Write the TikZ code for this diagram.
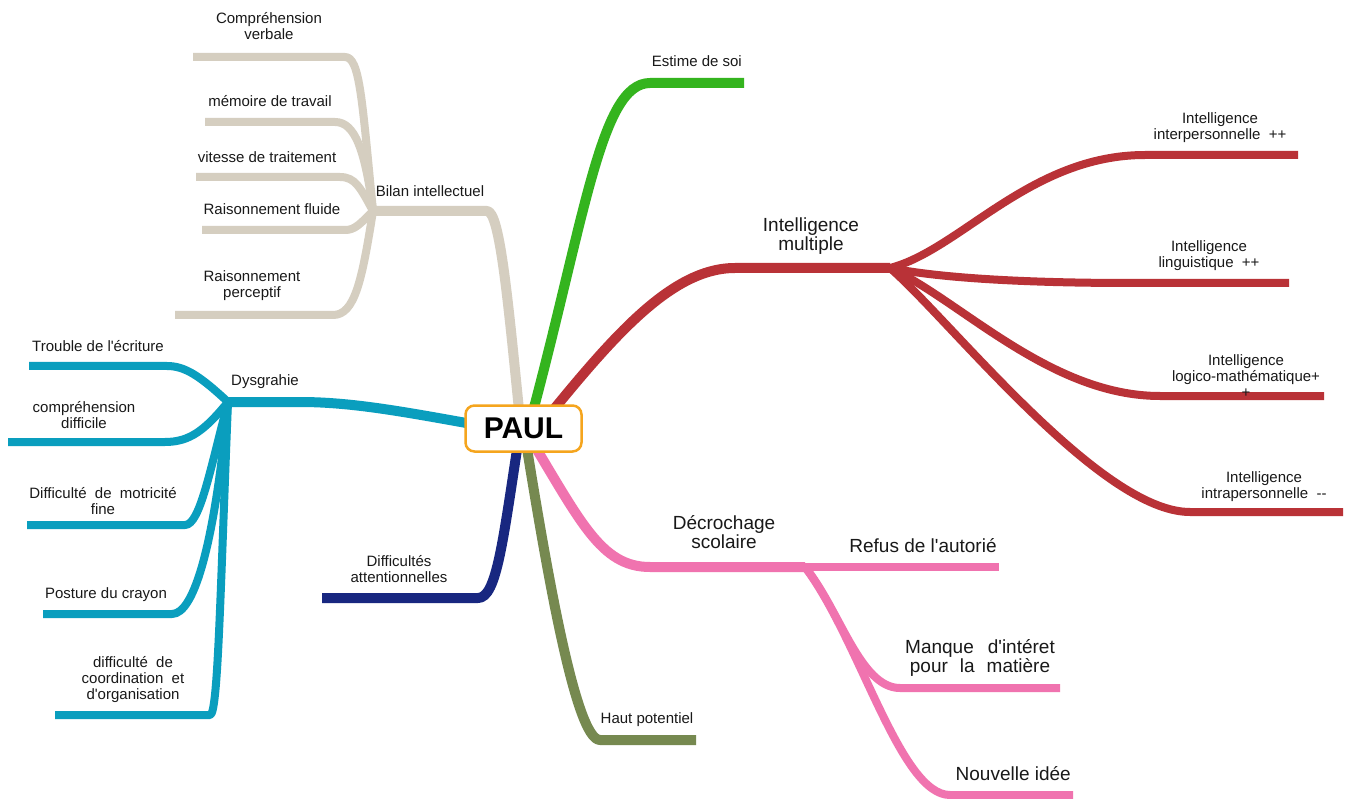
\documentclass[tikz,border=0pt]{standalone}
\usepackage{fontspec}
\setmainfont{Liberation Sans}[Ligatures=TeXOff]
\definecolor{beigeC}{RGB}{213,206,192}
\definecolor{cyanC}{RGB}{10,158,190}
\definecolor{navyC}{RGB}{24,39,128}
\definecolor{oliveC}{RGB}{118,137,80}
\definecolor{pinkC}{RGB}{240,115,175}
\definecolor{redC}{RGB}{185,50,55}
\definecolor{greenC}{RGB}{52,180,30}
\definecolor{orangeC}{RGB}{245,165,30}
\definecolor{txtC}{RGB}{25,25,25}
\tikzset{
  mainbr/.style={line width=10pt, line cap=butt, line join=round},
  subbr/.style={line width=8pt, line cap=butt, line join=round},
  sm/.style={font=\fontsize{15}{16}\selectfont, text=txtC, inner sep=0pt, align=center, anchor=base},
  lg/.style={font=\fontsize{19}{19}\selectfont, text=txtC, inner sep=0pt, align=center, anchor=base},
}
\begin{document}
\begin{tikzpicture}[x=1pt,y=-1pt]
\useasboundingbox (0,0) rectangle (1349,799);
\fill[white] (0,0) rectangle (1349,799);

% ---------- Bilan intellectuel (beige) ----------
\coordinate (bS) at (521,430);
\coordinate (bK) at (487,211);
\coordinate (bH) at (373,211);
\coordinate (b1) at (193,57);
\coordinate (b2) at (205,122);
\coordinate (b3) at (196,177);
\coordinate (b4) at (202,230);
\coordinate (b5) at (175,315);
\draw[subbr, beigeC] (bH) .. controls (362,100) and (360,57) .. (345,57) -- (b1);
\draw[subbr, beigeC] (bH) .. controls (365,150) and (355,122) .. (335,122) -- (b2);
\draw[subbr, beigeC] (bH) .. controls (360,187) and (355,177) .. (340,177) -- (b3);
\draw[subbr, beigeC] (bH) .. controls (360,224) and (355,230) .. (345,230) -- (b4);
\draw[subbr, beigeC] (bH) .. controls (362,280) and (355,315) .. (333,315) -- (b5);
\draw[mainbr, beigeC] (bS) .. controls (508,300) and (500,211) .. (bK) -- (bH);

% ---------- Dysgrahie (cyan) ----------
\coordinate (cS) at (522,433);
\coordinate (cK) at (300,402);
\coordinate (cH) at (228,402);
\coordinate (c1) at (29,366);
\coordinate (c2) at (8,442);
\coordinate (c3) at (27,525);
\coordinate (c4) at (43,614);
\coordinate (c5) at (55,715);
\draw[subbr, cyanC] (cH) .. controls (200,376) and (185,366) .. (167,366) -- (c1);
\draw[subbr, cyanC] (cH) .. controls (205,430) and (190,442) .. (165,442) -- (c2);
\draw[subbr, cyanC] (cH) .. controls (210,470) and (200,525) .. (185,525) -- (c3);
\draw[subbr, cyanC] (cH) .. controls (215,540) and (195,614) .. (172,614) -- (c4);
\draw[subbr, cyanC] (cH) .. controls (220,600) and (218,715) .. (210,715) -- (c5);
\draw[mainbr, cyanC] (cS) .. controls (420,415) and (360,402) .. (cK) -- (cH);

% ---------- Difficultes attentionnelles (navy) ----------
\coordinate (nS) at (520,430);
\coordinate (nK) at (478,598);
\coordinate (nE) at (322,598);
\draw[mainbr, navyC] (nS) .. controls (503,540) and (497,598) .. (nK) -- (nE);

% ---------- Haut potentiel (olive) ----------
\coordinate (oS) at (524,430);
\coordinate (oK) at (600,740);
\coordinate (oE) at (696,740);
\draw[mainbr, oliveC] (oS) .. controls (545,560) and (575,740) .. (oK) -- (oE);

% ---------- Decrochage scolaire (pink) ----------
\coordinate (pS) at (525,430);
\coordinate (pK) at (650,567);
\coordinate (pH) at (805,567);
\coordinate (p1) at (999,567);
\coordinate (p2) at (1060,688);
\coordinate (p3) at (1073,795);
\draw[subbr, pinkC] (pH) -- (p1);
\draw[subbr, pinkC] (pH) .. controls (840,610) and (860,688) .. (900,688) -- (p2);
\draw[subbr, pinkC] (pH) .. controls (860,640) and (900,795) .. (950,795) -- (p3);
\draw[mainbr, pinkC] (pS) .. controls (580,520) and (600,567) .. (pK) -- (pH);

% ---------- Intelligence multiple (red) ----------
\coordinate (rS) at (537,430);
\coordinate (rK) at (735,268);
\coordinate (rH) at (890,268);
\coordinate (r1) at (1298,155);
\coordinate (r2) at (1289,283);
\coordinate (r3) at (1324,396);
\coordinate (r4) at (1343,512);
\draw[subbr, redC] (rH) .. controls (960,250) and (1030,155) .. (1145,155) -- (r1);
\draw[subbr, redC] (rH) .. controls (950,280) and (1050,283) .. (1130,283) -- (r2);
\draw[subbr, redC] (rH) .. controls (960,300) and (1050,396) .. (1160,396) -- (r3);
\draw[subbr, redC] (rH) .. controls (950,320) and (1100,512) .. (1190,512) -- (r4);
\draw[mainbr, redC] (rS) .. controls (610,340) and (670,268) .. (rK) -- (rH);

% ---------- Estime de soi (green) ----------
\coordinate (gS) at (528,430);
\coordinate (gK) at (650,83);
\coordinate (gE) at (744,83);
\draw[mainbr, greenC] (gS) .. controls (585,220) and (600,83) .. (gK) -- (gE);

% ---------- Central node ----------
\node[draw=orangeC, line width=2.5pt, rounded corners=9pt, fill=white,
      minimum width=116pt, minimum height=46pt, inner sep=0pt,
      font=\fontsize{30}{30}\selectfont\bfseries, text=black] (paul) at (523.5,428.5) {PAUL};

% ---------- Labels (anchor = baseline of last line) ----------
\node[sm] (lb1) at (269,40) {Compréhension\\verbale};
\node[sm] (lb2) at (270,107) {mémoire de travail};
\node[sm] (lb3) at (267,163) {vitesse de traitement};
\node[sm] (lb4) at (272,215) {Raisonnement fluide};
\node[sm] (lb5) at (252,298) {Raisonnement\\perceptif};
\node[sm] (lbH) at (430,197) {Bilan intellectuel};

\node[sm] (lc1) at (98,352) {Trouble de l'écriture};
\node[sm] (lc2) at (84,428) {compréhension\\difficile};
\node[sm] (lc3) at (103,514) {Difficulté~ de~ motricité\\fine};
\node[sm] (lc4) at (106,598) {Posture du crayon};
\node[sm] (lc5) at (133,699) {difficulté~ de\\coordination~ et\\d'organisation};
\node[sm] (lcH) at (265,385) {Dysgrahie};

\node[sm] (ln) at (399,582) {Difficultés\\attentionnelles};
\node[sm] (lo) at (647,723) {Haut potentiel};
\node[sm, anchor=base east] (lg) at (742,67) {Estime de soi};

\node[lg] (lpH) at (724,548) {Décrochage\\scolaire};
\node[lg] (lp1) at (923,552) {Refus de l'autorié};
\node[lg] (lp2) at (980,672) {Manque\hspace{14pt}d'intéret\\pour\hspace{12pt}la\hspace{12pt}matière};
\node[lg, anchor=base east] (lp3) at (1071,780) {Nouvelle idée};

\node[lg] (lrH) at (811,251) {Intelligence\\multiple};
\node[sm] (lr1) at (1220,140) {Intelligence\\interpersonnelle~ ++};
\node[sm] (lr2) at (1209,268) {Intelligence\\linguistique~ ++};
\node[sm] (lr3) at (1246,397) {Intelligence\\logico-mathématique+\\+};
\node[sm] (lr4) at (1264,498) {Intelligence\\intrapersonnelle~ --};
\end{tikzpicture}
\end{document}
